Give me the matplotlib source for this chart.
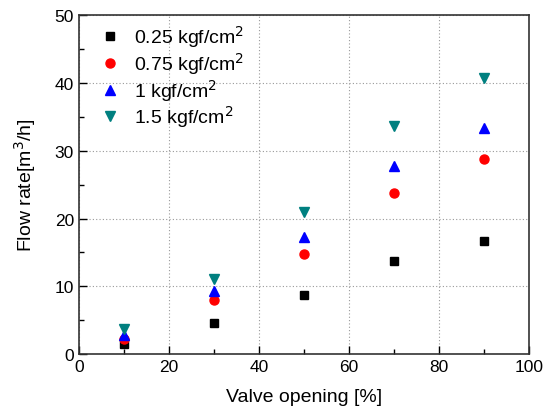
import matplotlib
matplotlib.use("Agg")
import matplotlib.pyplot as plt
from matplotlib.ticker import MultipleLocator

plt.rcParams['font.family'] = ['Liberation Sans', 'DejaVu Sans']

opening = [10, 30, 50, 70, 90]
p025 = [1.5, 4.6, 8.7, 13.8, 16.7]
p075 = [2.3, 8.0, 14.8, 23.8, 28.8]
p1 = [2.8, 9.3, 17.3, 27.7, 33.4]
p15 = [3.7, 11.1, 21.0, 33.7, 40.8]

fig = plt.figure(figsize=(5.51, 4.14), dpi=100)
ax = fig.add_axes([0.143, 0.142, 0.817, 0.819])

ax.plot(opening, p025, 's', color='black', ms=6, label='0.25 kgf/cm$^2$')
ax.plot(opening, p075, 'o', color='red', ms=6.5, label='0.75 kgf/cm$^2$')
ax.plot(opening, p1, '^', color='blue', ms=7, label='1 kgf/cm$^2$')
ax.plot(opening, p15, 'v', color='#008080', ms=7, label='1.5 kgf/cm$^2$')

ax.set_xlim(0, 100)
ax.set_ylim(0, 50)
ax.xaxis.set_major_locator(MultipleLocator(20))
ax.xaxis.set_minor_locator(MultipleLocator(10))
ax.yaxis.set_major_locator(MultipleLocator(10))
ax.yaxis.set_minor_locator(MultipleLocator(5))
ax.tick_params(which='both', direction='in', labelsize=12.5, top=False, right=False)
ax.tick_params(which='major', length=6, width=1)
ax.tick_params(which='minor', length=3.5, width=1)
ax.grid(True, which='major', linestyle=(0, (1, 2)), color='#999999', linewidth=0.8)
for s in ax.spines.values():
    s.set_linewidth(1.2)
    s.set_color('#333333')

ax.set_xlabel('Valve opening [%]', fontsize=14, labelpad=10)
ax.set_ylabel('Flow rate[m$^3$/h]', fontsize=14, labelpad=12)
ax.legend(loc='upper left', bbox_to_anchor=(0.02, 1.0), frameon=False, fontsize=14,
          handletextpad=0.5, borderaxespad=0.0, labelspacing=0.05, handlelength=1.5)

fig.savefig('out.png', dpi=100)
